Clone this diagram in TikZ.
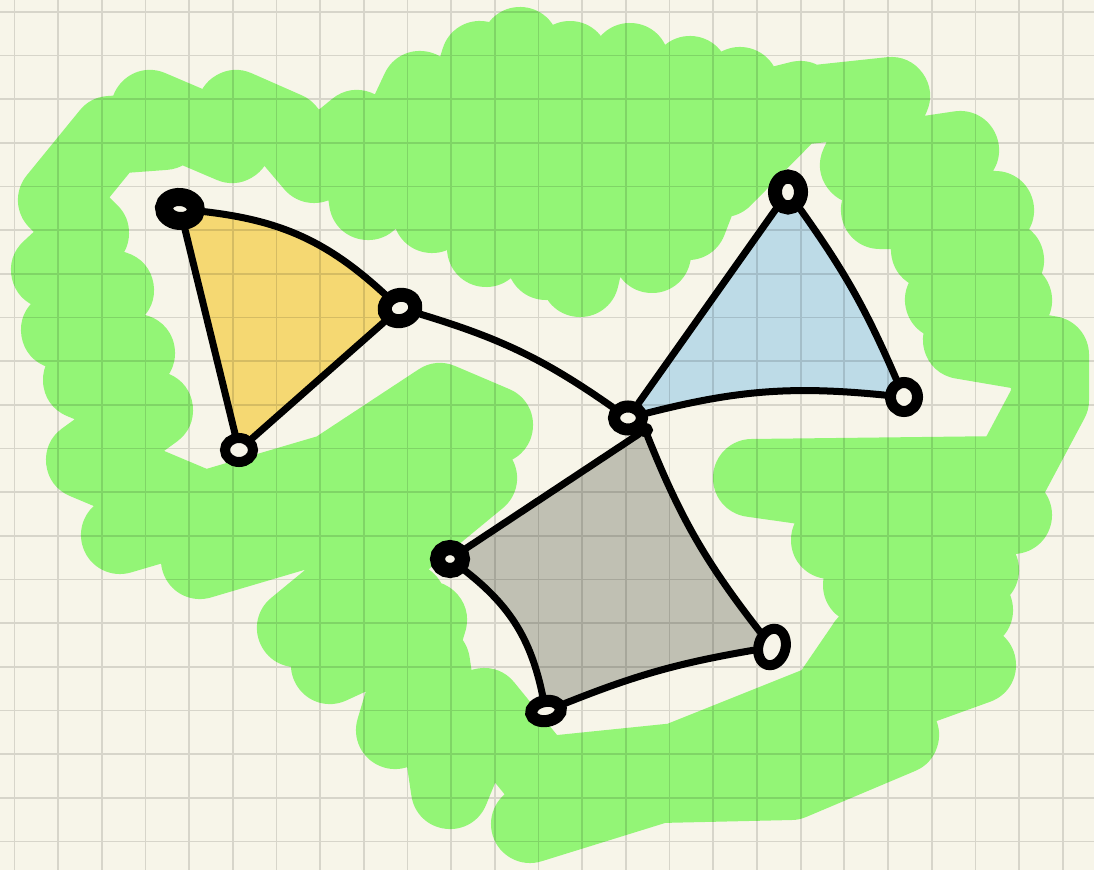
\documentclass[tikz,border=0pt]{standalone}
\usetikzlibrary{shapes.geometric}

\definecolor{paper}{RGB}{247,245,233}
\definecolor{marker}{RGB}{147,245,118}
\definecolor{sand}{RGB}{245,216,114}
\definecolor{sky}{RGB}{189,219,231}
\definecolor{stone}{RGB}{192,192,179}

\pgfdeclarelayer{sheet}
\pgfdeclarelayer{squares}
\pgfsetlayers{sheet,squares,main}

\begin{document}
\begin{tikzpicture}[
    x=0.01cm, y=-0.01cm,
    knot/.style={ellipse, draw, fill=paper, inner sep=0pt},
    edge/.style={line width=0.07cm, line cap=round},
    scribble/.style={draw=marker, line width=0.78cm, line cap=round, line join=round},
    gridline/.style={black, opacity=0.13, line width=0.017cm}
  ]
  \useasboundingbox (0,0) rectangle (1094,870);

  % vertices
  \node[knot, line width=0.18cm, minimum width=0.32cm, minimum height=0.24cm, rotate=-5] (a) at (180,209) {};
  \node[knot, line width=0.14cm, minimum width=0.31cm, minimum height=0.26cm, rotate=15] (b) at (400,308) {};
  \node[knot, line width=0.10cm, minimum width=0.28cm, minimum height=0.24cm] (c) at (239,450) {};
  \node[knot, line width=0.14cm, minimum width=0.26cm, minimum height=0.31cm] (d) at (788,192) {};
  \node[knot, line width=0.11cm, minimum width=0.27cm, minimum height=0.29cm] (e) at (904,397) {};
  \node[knot, line width=0.12cm, minimum width=0.28cm, minimum height=0.23cm] (f) at (628,418) {};
  \node[knot, fill=black, line width=0.04cm, minimum width=0.12cm, minimum height=0.10cm] (f2) at (645,430) {};
  \node[knot, line width=0.15cm, minimum width=0.25cm, minimum height=0.23cm] (g) at (450,559) {};
  \node[knot, line width=0.12cm, minimum width=0.30cm, minimum height=0.20cm, rotate=10] (h) at (546,711) {};
  \node[knot, line width=0.10cm, minimum width=0.27cm, minimum height=0.37cm, rotate=-15] (i) at (772,647) {};

  \begin{pgfonlayer}{sheet}
    \fill[paper] (0,0) rectangle (1094,870);
    % green scribble round the shapes
    \draw[scribble] (866,645) -- (827,702) -- (677,762) -- (540,776) -- (484,707)
      -- (450,790) -- (431,663) -- (395,730) -- (428,620) -- (330,665) -- (407,602)
      -- (296,628) -- (478,478) -- (200,560) -- (440,402) -- (494,425) -- (120,535)
      -- (192,505) -- (85,460) -- (154,410) -- (82,380) -- (136,353) -- (60,330)
      -- (115,290) -- (50,270) -- (90,233) -- (57,200) -- (110,135) -- (164,131)
      -- (150,109) -- (232,144) -- (236,109) -- (286,131) -- (314,164) -- (357,129)
      -- (368,201) -- (420,90) -- (432,214) -- (480,60) -- (486,248) -- (520,46)
      -- (546,261) -- (570,60) -- (580,278) -- (630,62) -- (652,254) -- (690,75)
      -- (688,221) -- (740,86) -- (723,178) -- (800,100) -- (760,110) -- (891,96)
      -- (859,165) -- (960,150) -- (880,210) -- (995,210) -- (930,250) -- (1005,260)
      -- (944,300) -- (1013,300) -- (962,340) -- (1050,355) -- (1050,400)
      -- (1010,475) -- (752,478) -- (1013,515) -- (830,540) -- (980,570)
      -- (862,585) -- (974,610) -- (866,645) -- (977,665) -- (880,700)
      -- (900,735) -- (791,781) -- (659,784) -- (530,824);
    % colour of the faces
    \fill[sand] (a.center) to[bend left=18] (b.center) -- (c.center) -- cycle;
    \fill[sky] (f.center) -- (d.center) to[bend left=6] (e.center)
      to[bend right=10] (f.center);
    \fill[stone, xshift=0.05cm] (f2.center) -- (g.center) to[bend left=20] (h.center)
      to[bend left=6] (i.center) to[bend left=8] (f2.center);
    \fill[stone] (f2.center) -- (g.center) to[bend left=20] (h.center)
      to[bend left=6] (i.center) to[bend left=8] (f2.center);
  \end{pgfonlayer}

  \begin{pgfonlayer}{squares}
    \draw[gridline, shift={(14.5,11.7)}] (-14.5,-11.7) grid[step=0.4365cm] (1079.5,858.3);
  \end{pgfonlayer}

  % edges
  \draw[edge] (a) to[bend left=18] (b);
  \draw[edge] (a) -- (c);
  \draw[edge] (b) -- (c);
  \draw[edge] (b) to[out=-20, in=145] (f);
  \draw[edge] (f) -- (d);
  \draw[edge] (d) to[bend left=6] (e);
  \draw[edge] (e) to[bend right=10] (f);
  \draw[edge] (f2) -- (g);
  \draw[edge] (g) to[bend left=20] (h);
  \draw[edge] (h) to[bend left=6] (i);
  \draw[edge] (i) to[bend left=8] (f2);
\end{tikzpicture}
\end{document}
